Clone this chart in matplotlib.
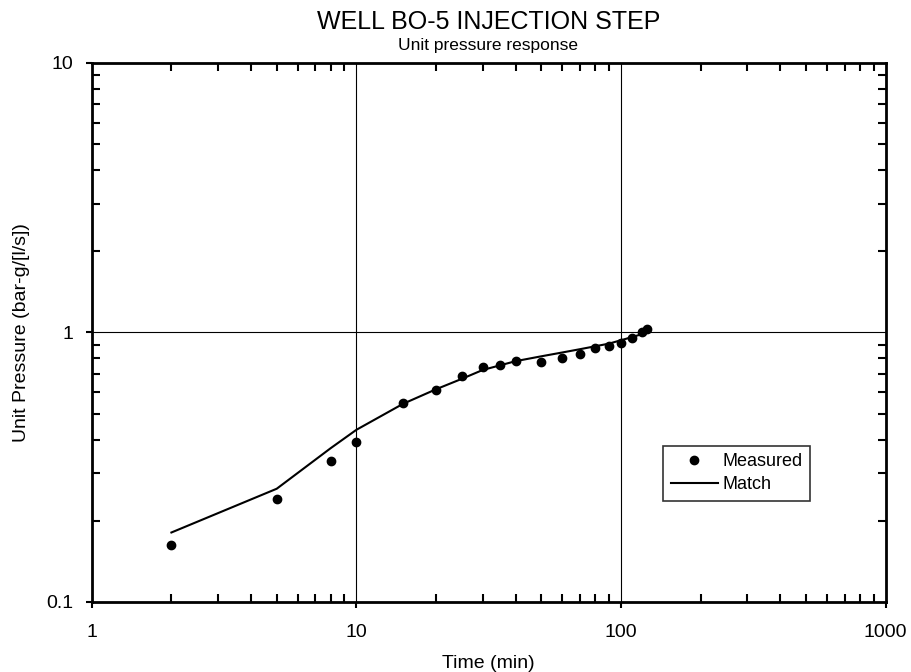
import matplotlib.pyplot as plt
from matplotlib.ticker import LogLocator, NullFormatter, FixedLocator, FixedFormatter

plt.rcParams['font.family'] = ['Liberation Sans', 'DejaVu Sans']

# Messdaten
time_min = [2, 5, 8, 10, 15, 20, 25, 30, 35, 40, 50, 60, 70, 80, 90, 100, 110, 120, 125]
measured = [0.162, 0.240, 0.332, 0.391, 0.549, 0.613, 0.689, 0.746, 0.757, 0.781,
            0.776, 0.801, 0.829, 0.873, 0.887, 0.916, 0.956, 1.000, 1.030]

# Modellanpassung
match = [0.181, 0.263, 0.372, 0.435, 0.543, 0.615, 0.672, 0.725, 0.755, 0.782,
         0.815, 0.842, 0.866, 0.888, 0.908, 0.935, 0.960, 0.985, 1.000]

x_ticks = [1, 10, 100, 1000]
x_labels = ['1', '10', '100', '1000']
y_ticks = [0.1, 1, 10]
y_labels = ['0.1', '1', '10']

fig = plt.figure(figsize=(9.11, 6.72), dpi=100)
ax = fig.add_axes([0.1007, 0.1042, 0.8715, 0.8025])

ax.plot(time_min, match, color='black', linewidth=1.5, label='Match', zorder=3)
ax.plot(time_min, measured, 'o', color='black', markersize=6, label='Measured', zorder=4)

ax.set_xscale('log')
ax.set_yscale('log')
ax.set_xlim(1, 1000)
ax.set_ylim(0.1, 10)

ax.xaxis.set_major_locator(FixedLocator(x_ticks))
ax.xaxis.set_major_formatter(FixedFormatter(x_labels))
ax.yaxis.set_major_locator(FixedLocator(y_ticks))
ax.yaxis.set_major_formatter(FixedFormatter(y_labels))
ax.xaxis.set_minor_locator(LogLocator(base=10, subs=range(2, 10)))
ax.yaxis.set_minor_locator(LogLocator(base=10, subs=range(2, 10)))
ax.xaxis.set_minor_formatter(NullFormatter())
ax.yaxis.set_minor_formatter(NullFormatter())

ax.tick_params(which='major', direction='out', length=4, width=1.5, labelsize=14,
               top=False, right=False)
ax.tick_params(axis='x', which='major', pad=12)
ax.tick_params(axis='y', which='major', pad=9)
ax.tick_params(which='minor', direction='in', length=6, width=1.5,
               top=True, right=True)

ax.grid(True, which='major', color='black', linewidth=0.8)
for s in ax.spines.values():
    s.set_linewidth(2)

ax.set_xlabel('Time (min)', fontsize=14, labelpad=10)
ax.set_ylabel('Unit Pressure (bar-g/[l/s])', fontsize=14, labelpad=12)

fig.text(0.536, 0.967, 'WELL BO-5 INJECTION STEP', ha='center', va='center', fontsize=18)
fig.text(0.536, 0.933, 'Unit pressure response', ha='center', va='center', fontsize=12.5)

handles, labels = ax.get_legend_handles_labels()
leg = ax.legend(handles[::-1], labels[::-1], loc='lower left', bbox_to_anchor=(0.72, 0.188),
                fontsize=13, frameon=True, fancybox=False, edgecolor='black',
                handlelength=2.6, borderpad=0.4, labelspacing=0.35, handletextpad=0.3,
                borderaxespad=0)
leg.get_frame().set_linewidth(1.2)

fig.savefig('out.png', dpi=100)
